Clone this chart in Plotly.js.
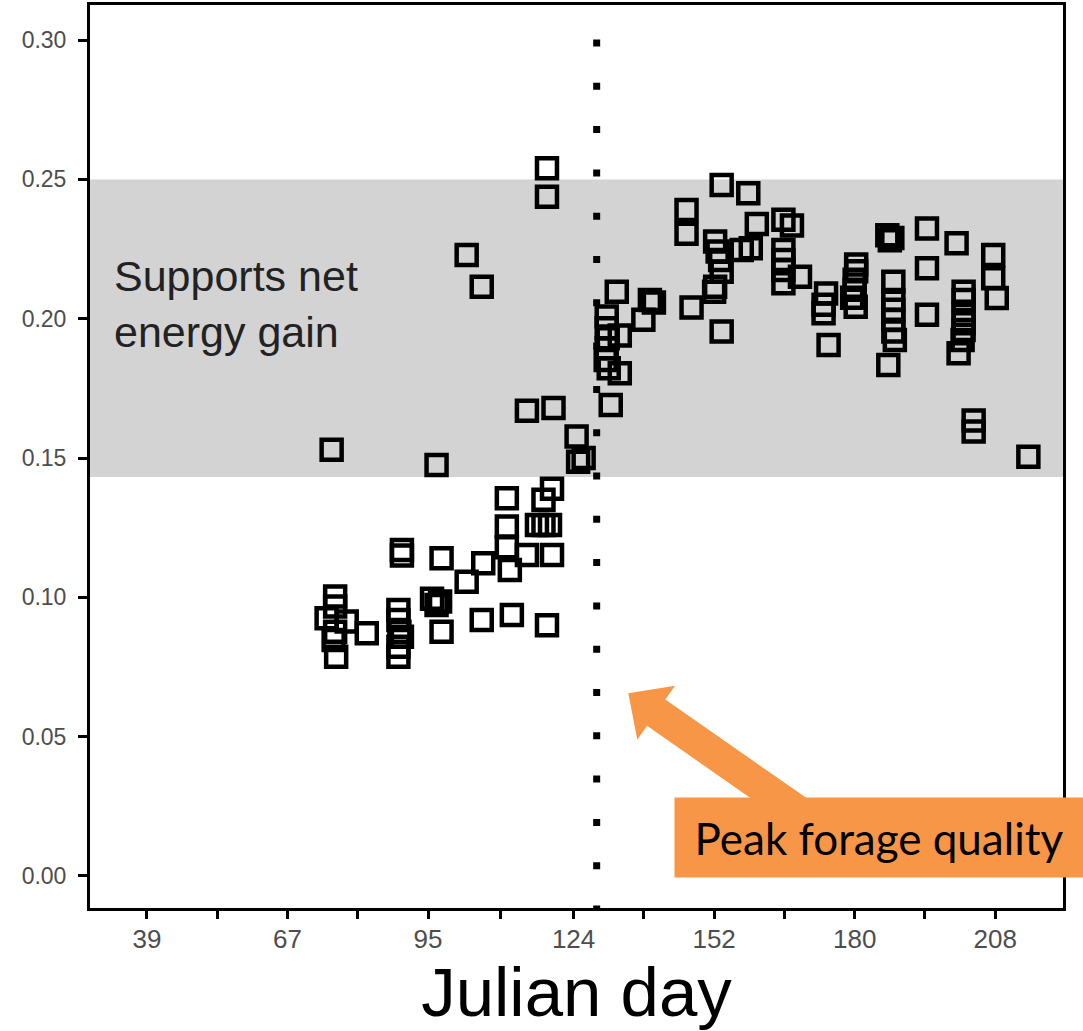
<!DOCTYPE html>
<html>
<head>
<meta charset="utf-8">
<script src="https://cdn.plot.ly/plotly-3.0.1.min.js"></script>
<style>html,body{margin:0;padding:0;background:#fff;}#chart{width:1083px;height:1031px;}</style>
</head>
<body>
<div id="chart"></div>
<script>
// Julian day of each sample
const julianDay = [
  75.8, 76.5, 76.5, 74.8, 78.8, 76.5, 76.2, 76.7, 82.8,
  89.1, 89.1, 89.3, 89.8, 89.1, 89.1, 89.8, 89.8,
  95.8, 96.7, 97.4, 96.7, 97.7, 97.7,
  102.7, 102.7, 105.7, 105.7, 106.0,
  110.7, 110.7, 110.7, 111.3, 111.7,
  114.7, 114.7, 116.7, 118.0, 119.3, 118.0,
  118.7, 118.7, 118.7, 119.7, 119.7, 120.0,
  124.6, 124.9, 126.0,
  130.6, 130.6, 133.2, 130.8, 130.6, 130.4, 131.0, 133.2, 131.4, 132.6,
  139.2, 140.0, 137.9, 147.5,
  146.5, 146.5, 152.2, 152.7, 153.2, 153.5, 152.2, 152.0, 153.5, 153.5,
  157.5, 159.3, 158.8, 160.5,
  165.8, 167.5, 165.8, 165.8, 165.8, 165.8, 169.1,
  174.3, 173.8, 173.8, 174.8,
  180.3, 180.3, 180.0, 180.0, 179.5, 180.2,
  186.5, 187.5, 187.0, 187.7, 187.7, 187.7, 187.7, 187.7, 188.0, 186.7,
  194.4, 194.4, 194.4,
  200.3, 201.7, 201.7, 201.7, 201.7, 201.7, 201.5, 200.7,
  203.7, 203.7,
  207.6, 207.6, 208.3, 214.6
];
// Forage quality value of each sample
const forageValue = [
  0.153, 0.1003, 0.0967, 0.0925, 0.0913, 0.0877, 0.0847, 0.0787, 0.0871,
  0.0955, 0.0919, 0.0877, 0.0859, 0.0823, 0.0787, 0.117, 0.115,
  0.0995, 0.0973, 0.0985, 0.1475, 0.114, 0.0877,
  0.2229, 0.1056, 0.2115, 0.0919, 0.1122,
  0.1356, 0.1254, 0.118, 0.1098, 0.0937,
  0.167, 0.1152, 0.126, 0.126, 0.126, 0.135,
  0.254, 0.2438, 0.090, 0.139, 0.1152, 0.168,
  0.1577, 0.1487, 0.150,
  0.2008, 0.1966, 0.1940, 0.1930, 0.1894, 0.1852, 0.1822, 0.1804, 0.1690, 0.2097,
  0.2067, 0.2058, 0.1996, 0.2040,
  0.239, 0.2305, 0.2277, 0.2241, 0.2211, 0.2169, 0.2115, 0.2097, 0.248, 0.1954,
  0.2247, 0.2253, 0.245, 0.234,
  0.2355, 0.2335, 0.2247, 0.2211, 0.2175, 0.2127, 0.2151,
  0.2091, 0.2050, 0.2020, 0.1906,
  0.2195, 0.2170, 0.2140, 0.2104, 0.2075, 0.2043,
  0.2300, 0.2290, 0.2282, 0.2133, 0.2067, 0.2032, 0.1996, 0.1954, 0.1924, 0.1834,
  0.2324, 0.2181, 0.2014,
  0.2271, 0.2097, 0.2067, 0.2014, 0.1984, 0.1960, 0.1924, 0.1876,
  0.1635, 0.1595,
  0.2229, 0.2145, 0.2074, 0.1505
];

const peakDay = 128.6;                 // peak forage quality
const energyBand = [0.1432, 0.25];     // supports net energy gain
const xTickDays = [39, 67, 95, 124, 152, 180, 208];
const xMinorDays = [53, 81, 109.5, 138, 166, 194];
const yTickValues = [0, 0.05, 0.10, 0.15, 0.20, 0.25, 0.30];
const xRange = [27.66, 221.5];
const yRange = [-0.01149, 0.3126];

// plot area geometry (pixels) used for the callout decoration
const W = 1083, H = 1031;
const M = {l: 90, r: 20, t: 5, b: 123};
const PW = W - M.l - M.r, PH = H - M.t - M.b;
const toPaper = (px, py) => [((px - M.l) / PW).toFixed(5), ((H - M.b - py) / PH).toFixed(5)];

// orange arrow polygon: tip, head length/width, shaft width
function arrowPath() {
  const tip = [628.3, 693.3];
  const d = [1, 0.697];
  const len = Math.hypot(d[0], d[1]);
  const u = [d[0] / len, d[1] / len];
  const n = [-u[1], u[0]];
  const headLen = 34, headHalf = 33, shaftHalf = 16, total = 245;
  const b = [tip[0] + headLen * u[0], tip[1] + headLen * u[1]];
  const e = [tip[0] + total * u[0], tip[1] + total * u[1]];
  const pts = [
    tip,
    [b[0] + headHalf * n[0], b[1] + headHalf * n[1]],
    [b[0] + shaftHalf * n[0], b[1] + shaftHalf * n[1]],
    [e[0] + shaftHalf * n[0], e[1] + shaftHalf * n[1]],
    [e[0] - shaftHalf * n[0], e[1] - shaftHalf * n[1]],
    [b[0] - shaftHalf * n[0], b[1] - shaftHalf * n[1]],
    [b[0] - headHalf * n[0], b[1] - headHalf * n[1]]
  ];
  return 'M' + pts.map(p => toPaper(p[0], p[1]).join(',')).join(' L') + ' Z';
}

const trace = {
  type: 'scatter',
  mode: 'markers',
  x: julianDay,
  y: forageValue,
  marker: {symbol: 'square-open', size: 20, color: '#000', line: {width: 4.5, color: '#000'}},
  hoverinfo: 'x+y',
  showlegend: false
};

const peakLine = {
  type: 'scatter',
  mode: 'lines',
  x: [peakDay, peakDay],
  y: [-0.0131, yRange[1]],
  line: {color: '#000', width: 7, dash: '7px,36.3px'},
  hoverinfo: 'skip',
  showlegend: false
};

const layout = {
  width: W,
  height: H,
  margin: M,
  paper_bgcolor: '#fff',
  plot_bgcolor: '#fff',
  showlegend: false,
  xaxis: {
    range: xRange,
    tickmode: 'array',
    tickvals: xTickDays,
    ticktext: xTickDays.map(String),
    ticks: 'outside', ticklen: 8, tickwidth: 3, tickcolor: '#000',
    minor: {tickmode: 'array', tickvals: xMinorDays, ticks: 'outside', ticklen: 8, tickwidth: 3, tickcolor: '#000', showgrid: false},
    showline: true, linewidth: 3, linecolor: '#000', mirror: true,
    showgrid: false, zeroline: false,
    tickfont: {family: 'Liberation Sans, Arial, sans-serif', size: 26, color: '#4d4d4d'},
    ticklabelstandoff: -2,
    title: {text: 'Julian day', font: {family: 'Liberation Sans, Arial, sans-serif', size: 69, color: '#000'}, standoff: 6}
  },
  yaxis: {
    range: yRange,
    tickmode: 'array',
    tickvals: yTickValues,
    tickformat: '.2f',
    ticks: 'outside', ticklen: 9, tickwidth: 3, tickcolor: '#000',
    showline: true, linewidth: 3, linecolor: '#000', mirror: true,
    showgrid: false, zeroline: false,
    tickfont: {family: 'Liberation Sans, Arial, sans-serif', size: 23, color: '#4d4d4d'},
    ticklabelstandoff: 7
  },
  shapes: [
    {type: 'rect', xref: 'paper', yref: 'y', x0: 0, x1: 1, y0: energyBand[0], y1: energyBand[1],
     fillcolor: '#d3d3d3', line: {width: 0}, layer: 'below'},
    {type: 'path', xref: 'paper', yref: 'paper', path: arrowPath(), fillcolor: '#F79646', line: {width: 0}, layer: 'above'}
  ],
  annotations: [
    {xref: 'paper', yref: 'y', x: (112 - 90) / PW, y: 0.2052, xanchor: 'left', yanchor: 'middle', align: 'left',
     text: 'Supports net<br>energy gain', showarrow: false,
     font: {family: 'Liberation Sans, Arial, sans-serif', size: 43, color: '#222'}},
    {xref: 'paper', yref: 'paper', x: (879 - 90) / PW, y: (908 - 837.5) / PH, xanchor: 'center', yanchor: 'middle',
     text: 'Peak forage quality', showarrow: false, bgcolor: '#F79646', borderpad: 0, width: 408, height: 79,
     font: {family: 'Lato, sans-serif', size: 44, color: '#000'}}
  ]
};

Plotly.newPlot('chart', [trace, peakLine], layout, {displayModeBar: false, staticPlot: true});
</script>
</body>
</html>
